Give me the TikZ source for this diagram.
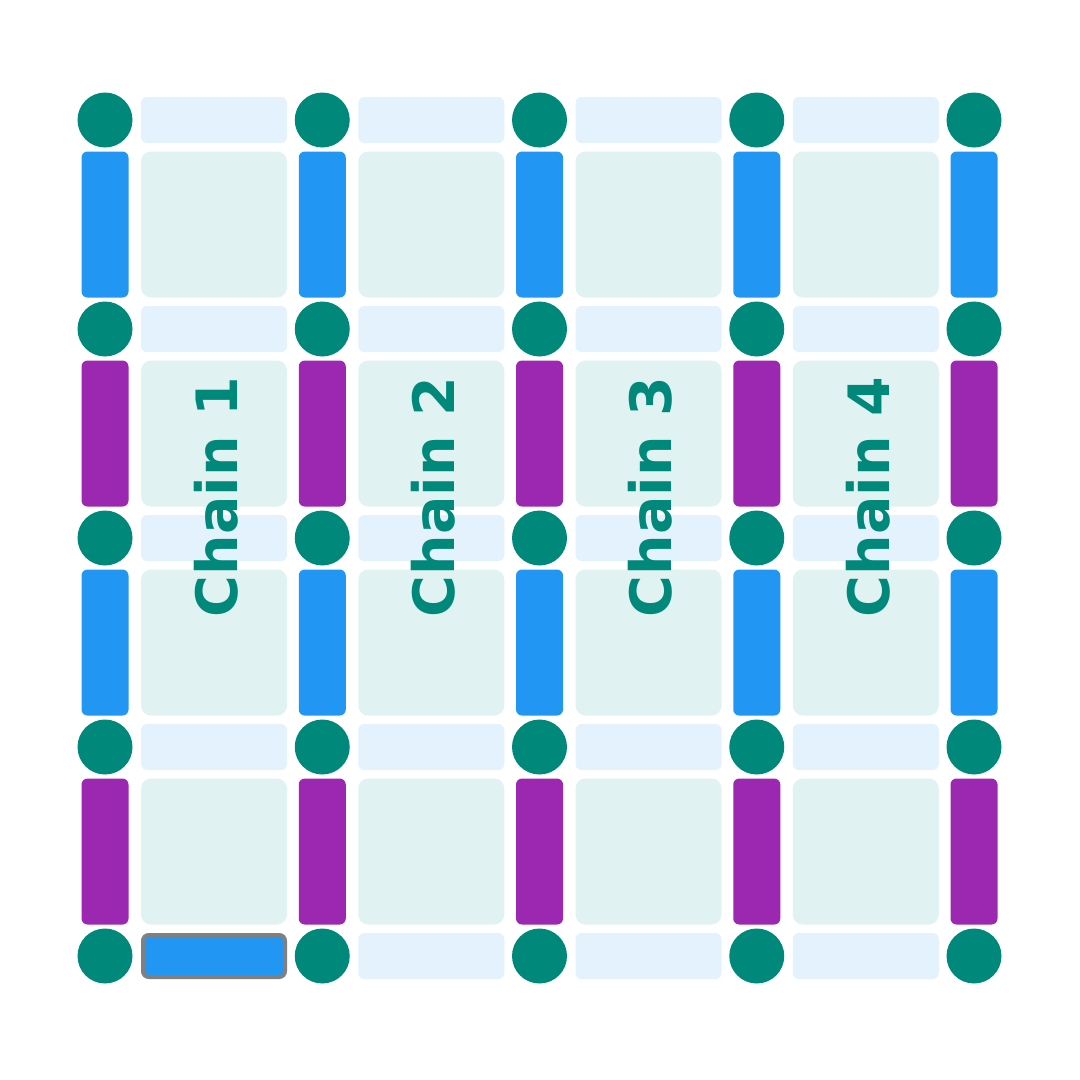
\documentclass[tikz,border=0pt]{standalone}
\usepackage{fontspec}
\setmainfont{DejaVu Sans}
\definecolor{teal1}{HTML}{00897B}
\definecolor{blue1}{HTML}{2196F3}
\definecolor{purp1}{HTML}{9C27B0}
\definecolor{lblue}{HTML}{E3F2FD}
\definecolor{lteal}{HTML}{E0F2F1}
\tikzset{
 dot/.style={circle,fill=teal1,minimum size=55pt,inner sep=0},
 vbar/.style={rounded corners=6pt,minimum width=47pt,minimum height=146pt,inner sep=0},
 hbar/.style={fill=lblue,rounded corners=6pt,minimum width=146pt,minimum height=46pt,inner sep=0},
 cell/.style={fill=lteal,rounded corners=10pt,minimum width=146pt,minimum height=146pt,inner sep=0},
 lbl/.style={text=teal1,font=\bfseries\fontsize{57}{57}\selectfont,rotate=90}
}
\begin{document}
\begin{tikzpicture}[x=1pt,y=-1pt]
\useasboundingbox (0,0) rectangle (1080,1080);
\foreach \i in {0,...,4}{
 \pgfmathsetmacro{\cx}{105+217.25*\i}
 \foreach \j in {0,...,4}{
  \pgfmathsetmacro{\cy}{120+209*\j}
  \node[dot] (d\i\j) at (\cx,\cy) {};
 }
 \foreach \j/\c in {0/blue1,1/purp1,2/blue1,3/purp1}{
  \pgfmathsetmacro{\cy}{224.5+209*\j}
  \node[vbar,fill=\c] (v\i\j) at (\cx,\cy) {};
 }
}
\foreach \i in {0,...,3}{
 \pgfmathsetmacro{\cx}{214+217.25*\i}
 \foreach \j in {0,...,4}{
  \pgfmathsetmacro{\cy}{120+209*\j}
  \node[hbar] (h\i\j) at (\cx,\cy) {};
 }
 \foreach \j in {0,...,3}{
  \pgfmathsetmacro{\cy}{224.5+209*\j}
  \node[cell] (c\i\j) at (\cx,\cy) {};
 }
}
\node[hbar,fill=blue1,draw=gray,line width=4pt,minimum width=142pt,minimum height=42pt] (sel) at (214,956) {};
\foreach \i in {0,...,3}{
 \pgfmathtruncatemacro{\n}{\i+1}
 \pgfmathsetmacro{\cx}{216+217.25*\i}
 \node[lbl] (t\i) at (\cx,497) {Chain \n};
}
\end{tikzpicture}
\end{document}
